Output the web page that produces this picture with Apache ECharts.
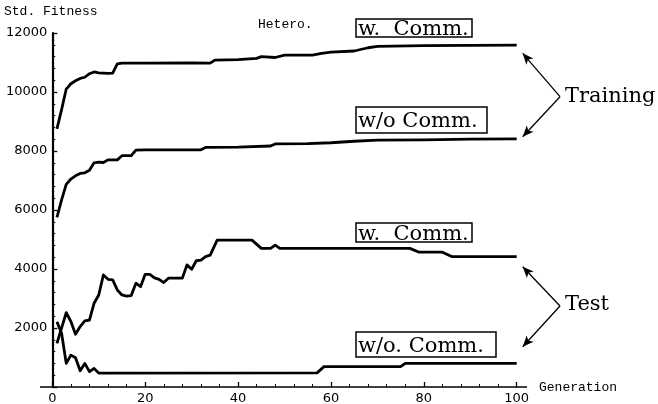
<!DOCTYPE html>
<html>
<head>
<meta charset="utf-8">
<script src="https://cdn.jsdelivr.net/npm/echarts@6/dist/echarts.min.js"></script>
<style>html,body{margin:0;padding:0;background:#fff;}#c{width:658px;height:404px;}</style>
</head>
<body>
<div id="c"></div>
<script>
// ---- data ----
const xTicks = [0, 20, 40, 60, 80, 100];
const yTicks = [2000, 4000, 6000, 8000, 10000, 12000];

const trainWithComm = [[1,8750],[2,9400],[3,10100],[4,10280],[5,10380],[6,10460],[7,10500],[8,10620],[9,10680],[10,10650],[11,10640],[12,10630],[13,10640],[14,10950],[15,10980],[20,10980],[30,10990],[34,10980],[35,11080],[40,11100],[44,11140],[45,11200],[48,11170],[50,11250],[56,11250],[58,11310],[60,11350],[65,11390],[68,11500],[70,11550],[80,11570],[90,11580],[100,11590]];
const trainWithoutComm = [[1,5750],[2,6340],[3,6870],[4,7050],[5,7160],[6,7240],[7,7260],[8,7350],[9,7600],[10,7620],[11,7610],[12,7700],[14,7700],[15,7840],[17,7840],[18,8030],[20,8040],[32,8040],[33,8120],[40,8130],[47,8170],[48,8240],[55,8250],[60,8280],[65,8330],[70,8370],[80,8380],[90,8400],[100,8410]];
const testWithComm = [[1,1480],[3,2520],[4,2220],[5,1790],[6,2050],[7,2240],[8,2270],[9,2840],[10,3120],[11,3800],[12,3650],[13,3630],[14,3290],[15,3120],[16,3080],[17,3100],[18,3520],[19,3400],[20,3820],[21,3820],[22,3700],[23,3650],[24,3540],[25,3690],[28,3690],[29,4140],[30,3990],[31,4280],[32,4300],[33,4420],[34,4470],[35.5,4980],[43,4980],[45,4700],[47,4700],[48,4810],[49,4700],[77,4700],[79,4570],[84,4570],[86,4420],[100,4420]];
const testWithoutComm = [[1,2210],[2,1820],[3,800],[4,1080],[5,990],[6,550],[7,800],[8,520],[9,630],[10,470],[11,470],[57,480],[58.5,690],[75,690],[76,800],[100,800]];

const seriesNames = ['Training w. Comm.', 'Training w/o Comm.', 'Test w. Comm.', 'Test w/o. Comm.'];
const seriesData = [trainWithComm, trainWithoutComm, testWithComm, testWithoutComm];

// ---- chart ----
const chart = echarts.init(document.getElementById('c'), null, {renderer: 'canvas'});
const mono = '"Liberation Mono", "DejaVu Sans Mono", monospace';
const serif = '"DejaVu Serif", "Liberation Serif", serif';
const sans = '"DejaVu Sans", sans-serif';

const lineSeries = seriesData.map((d, i) => ({
  name: seriesNames[i],
  type: 'line',
  data: d,
  symbol: 'none',
  lineStyle: {color: '#000', width: 2.8, join: 'round'},
  z: 5
}));

// annotation arrows (pixel positions)
lineSeries[0].markLine = {
  silent: true,
  symbol: ['none', 'arrow'],
  symbolSize: [7, 11],
  label: {show: false},
  lineStyle: {color: '#000', width: 1.3, type: 'solid'},
  data: [
    [{x: 560, y: 96.7}, {x: 522.7, y: 53.3}],
    [{x: 560, y: 96.7}, {x: 522.7, y: 136.7}],
    [{x: 560, y: 306}, {x: 522.7, y: 266.7}],
    [{x: 560, y: 306}, {x: 522.7, y: 346.7}]
  ]
};

function box(x, y, w, h, text) {
  return [
    {type: 'rect', shape: {x: x, y: y, width: w, height: h}, style: {fill: '#fff', stroke: '#000', lineWidth: 1.5}, z: 10},
    {type: 'text', x: x + 2, y: y + h / 2 + 2, style: {text: text, font: '21px ' + serif, fill: '#000', verticalAlign: 'middle', align: 'left'}, z: 11}
  ];
}

const gL = 52.3, gR = 516.7, gT = 33, gB = 387;

chart.setOption({
  animation: false,
  backgroundColor: '#fff',
  grid: {left: gL, right: 658 - gR, top: gT, bottom: 404 - gB, containLabel: false, outerBoundsMode: 'none'},
  xAxis: {
    type: 'value', min: xTicks[0], max: xTicks[xTicks.length - 1], interval: 20,
    axisLine: {show: true, onZero: false, lineStyle: {color: '#000', width: 1.5}},
    axisTick: {show: true, inside: true, length: 5, lineStyle: {color: '#000', width: 1.3}},
    minorTick: {show: true, splitNumber: 5, length: 3, lineStyle: {color: '#000', width: 1}},
    axisLabel: {color: '#000', fontSize: 13, fontFamily: sans, margin: 5},
    splitLine: {show: false}
  },
  yAxis: {
    type: 'value', min: 0, max: yTicks[yTicks.length - 1], interval: 2000,
    axisLine: {show: true, onZero: false, lineStyle: {color: '#000', width: 2.2}},
    axisTick: {show: true, inside: true, length: 5, lineStyle: {color: '#000', width: 1.3}},
    minorTick: {show: true, splitNumber: 5, length: 3, lineStyle: {color: '#000', width: 1}},
    axisLabel: {color: '#000', fontSize: 13, fontFamily: sans, margin: 5, showMinLabel: false,
      formatter: v => String(v)},
    splitLine: {show: false}
  },
  series: lineSeries,
  graphic: [
    // x-axis line overhang on both sides of the plot (as in the reference)
    {type: 'line', shape: {x1: 40, y1: gB, x2: gL, y2: gB}, style: {stroke: '#000', lineWidth: 1.5}},
    {type: 'line', shape: {x1: gR, y1: gB, x2: 527, y2: gB}, style: {stroke: '#000', lineWidth: 1.5}},
    {type: 'text', x: 4, y: 12, style: {text: 'Std. Fitness', font: '13px ' + mono, fill: '#000', verticalAlign: 'middle'}},
    {type: 'text', x: 258, y: 24.5, style: {text: 'Hetero.', font: '13px ' + mono, fill: '#000', verticalAlign: 'middle'}},
    {type: 'text', x: 539, y: 388, style: {text: 'Generation', font: '13px ' + mono, fill: '#000', verticalAlign: 'middle'}},
    {type: 'text', x: 565, y: 96.7, style: {text: 'Training', font: '21px ' + serif, fill: '#000', verticalAlign: 'middle'}},
    {type: 'text', x: 565, y: 305, style: {text: 'Test', font: '21px ' + serif, fill: '#000', verticalAlign: 'middle'}},
    ...box(356, 19, 116, 18, 'w.  Comm.'),
    ...box(356, 107, 131, 26, 'w/o Comm.'),
    ...box(356, 223, 116, 19, 'w.  Comm.'),
    ...box(356, 332, 140, 25, 'w/o. Comm.')
  ]
});
</script>
</body>
</html>
